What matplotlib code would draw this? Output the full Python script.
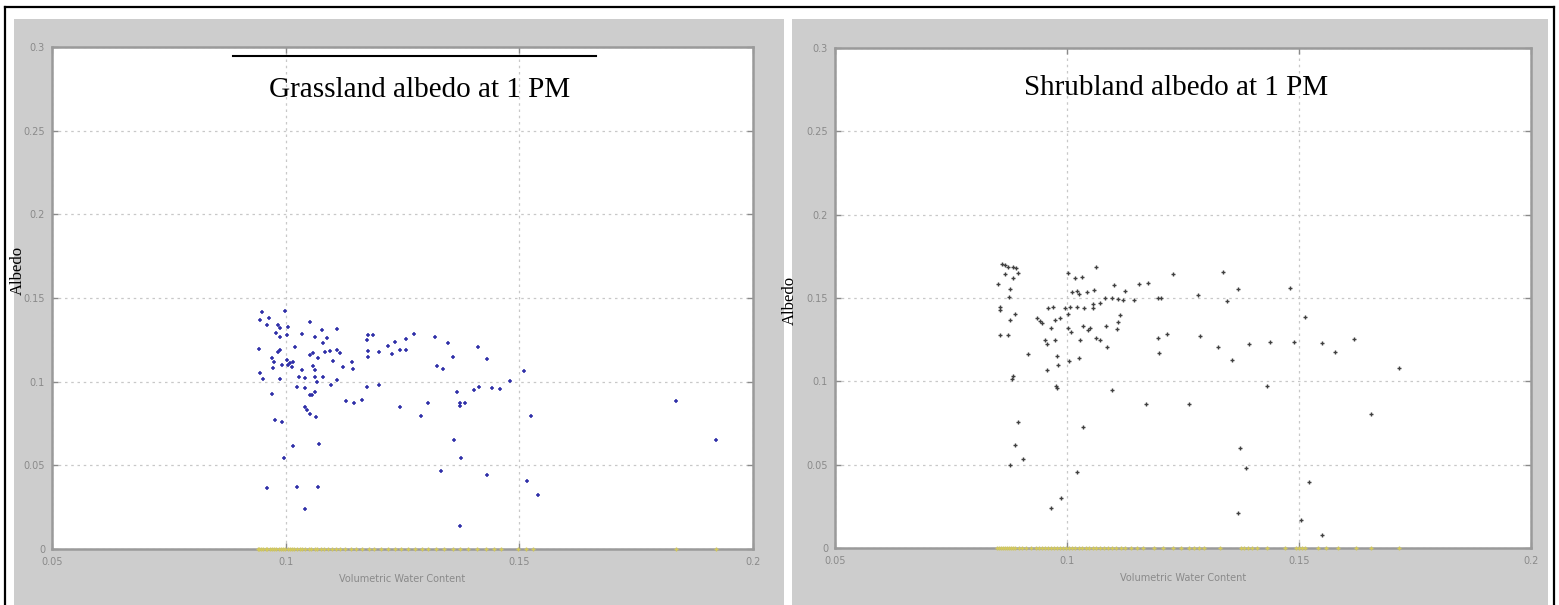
import matplotlib.pyplot as plt
from matplotlib.patches import Rectangle
from matplotlib.lines import Line2D

# ----------------------------
# Data (volumetric water content, albedo)
# ----------------------------

grass_vwc = [
    0.0950, 0.0945, 0.0965, 0.0960, 0.0984, 0.0988, 0.0999, 0.1005, 0.1003, 0.0988,
    0.0980, 0.1052, 0.1035, 0.1078, 0.1110, 0.1063, 0.1089, 0.1080, 0.0943, 0.0988,
    0.0984, 0.1020, 0.1052, 0.1059, 0.1070, 0.1085, 0.1095, 0.1110, 0.1117, 0.1102,
    0.0971, 0.0975, 0.1003, 0.1010, 0.1014, 0.1016, 0.1005, 0.0993, 0.0973, 0.1035,
    0.1059, 0.1063, 0.1123, 0.1142, 0.1145, 0.0945, 0.0952, 0.0988, 0.1029, 0.1042,
    0.1063, 0.1067, 0.1080, 0.1110, 0.1097, 0.1025, 0.1042, 0.1063, 0.1057, 0.1052,
    0.0971, 0.1042, 0.1046, 0.1052, 0.1065, 0.0978, 0.0993, 0.1130, 0.1147, 0.1164,
    0.1175, 0.1200, 0.1175, 0.1177, 0.1187, 0.1177, 0.1177, 0.1200, 0.1219, 0.1228,
    0.1234, 0.1245, 0.1258, 0.1258, 0.1275, 0.1320, 0.1348, 0.1324, 0.1337, 0.1245,
    0.1305, 0.1290, 0.1359, 0.1367, 0.1372, 0.1374, 0.1384, 0.1402, 0.1414, 0.1442,
    0.1459, 0.1412, 0.1431, 0.1479, 0.1509, 0.1526, 0.1361, 0.1376, 0.1333, 0.1431,
    0.1517, 0.1539, 0.1372, 0.1836, 0.1920, 0.1016, 0.1072, 0.0997, 0.0960, 0.1025,
    0.1070, 0.1042,
]
grass_albedo = [
    0.1417, 0.1369, 0.1381, 0.1339, 0.1339, 0.1321, 0.1423, 0.1327, 0.1279, 0.1267,
    0.1291, 0.1357, 0.1285, 0.1309, 0.1315, 0.1267, 0.1261, 0.1231, 0.1195, 0.1189,
    0.1178, 0.1207, 0.1160, 0.1172, 0.1142, 0.1178, 0.1184, 0.1189, 0.1172, 0.1124,
    0.1142, 0.1118, 0.1130, 0.1112, 0.1088, 0.1118, 0.1100, 0.1100, 0.1082, 0.1070,
    0.1094, 0.1070, 0.1088, 0.1118, 0.1076, 0.1052, 0.1016, 0.1016, 0.1028, 0.1022,
    0.1028, 0.0998, 0.1028, 0.1010, 0.0980, 0.0968, 0.0962, 0.0938, 0.0921, 0.0921,
    0.0926, 0.0849, 0.0831, 0.0807, 0.0789, 0.0771, 0.0759, 0.0885, 0.0873, 0.0891,
    0.0968, 0.0980, 0.1249, 0.1279, 0.1279, 0.1184, 0.1148, 0.1178, 0.1213, 0.1166,
    0.1237, 0.1189, 0.1189, 0.1255, 0.1285, 0.1267, 0.1231, 0.1094, 0.1076, 0.0849,
    0.0873, 0.0795, 0.1148, 0.0938, 0.0873, 0.0855, 0.0873, 0.0950, 0.0968, 0.0962,
    0.0956, 0.1208, 0.1136, 0.1004, 0.1064, 0.0795, 0.0652, 0.0544, 0.0466, 0.0442,
    0.0406, 0.0323, 0.0137, 0.0885, 0.0652, 0.0616, 0.0628, 0.0544, 0.0365, 0.0371,
    0.0371, 0.0239,
]
grass_zero_vwc = [
    0.0940, 0.0944, 0.0948, 0.0952, 0.0957, 0.0961, 0.0966, 0.0970, 0.0975, 0.0980,
    0.0985, 0.0990, 0.0994, 0.0999, 0.1004, 0.1009, 0.1013, 0.1018, 0.1024, 0.1030,
    0.1036, 0.1042, 0.1049, 0.1055, 0.1062, 0.1068, 0.1075, 0.1083, 0.1091, 0.1099,
    0.1107, 0.1116, 0.1128, 0.1140, 0.1151, 0.1163, 0.1178, 0.1190, 0.1204, 0.1219,
    0.1233, 0.1247, 0.1262, 0.1276, 0.1291, 0.1305, 0.1322, 0.1338, 0.1357, 0.1373,
    0.1390, 0.1410, 0.1428, 0.1445, 0.1461, 0.1498, 0.1515, 0.1530, 0.1836, 0.1920,
]

shrub_vwc = [
    0.0859, 0.0866, 0.0873, 0.0884, 0.0890, 0.0866, 0.0884, 0.0894, 0.0851, 0.0877,
    0.0875, 0.0856, 0.0856, 0.0888, 0.0877, 0.0856, 0.0873, 0.0916, 0.0884, 0.0881,
    0.0894, 0.0888, 0.0905, 0.0877, 0.1002, 0.1017, 0.1032, 0.1063, 0.1011, 0.1022,
    0.1026, 0.1043, 0.1058, 0.1101, 0.1125, 0.1155, 0.1175, 0.1082, 0.1097, 0.1110,
    0.1121, 0.1144, 0.1196, 0.1071, 0.1056, 0.1056, 0.1037, 0.1022, 0.1006, 0.0996,
    0.0970, 0.0959, 0.1002, 0.0935, 0.0942, 0.0946, 0.0974, 0.0985, 0.0966, 0.1002,
    0.1009, 0.1034, 0.1045, 0.1050, 0.1084, 0.1114, 0.1110, 0.1108, 0.1063, 0.1071,
    0.1086, 0.0953, 0.0957, 0.0974, 0.1028, 0.0978, 0.0981, 0.1004, 0.1026, 0.0957,
    0.0976, 0.0978, 0.1097, 0.1170, 0.1034, 0.1196, 0.1198, 0.1228, 0.1336, 0.1203,
    0.1282, 0.1345, 0.1369, 0.1481, 0.1513, 0.1216, 0.1287, 0.1325, 0.1356, 0.1392,
    0.1438, 0.1489, 0.1550, 0.1578, 0.1619, 0.1716, 0.1431, 0.1263, 0.1655, 0.1373,
    0.1386, 0.1022, 0.0987, 0.0966, 0.1369, 0.1522, 0.1504, 0.1550,
]
shrub_albedo = [
    0.1706, 0.1699, 0.1687, 0.1687, 0.1681, 0.1645, 0.1621, 0.1651, 0.1585, 0.1555,
    0.1507, 0.1447, 0.1429, 0.1406, 0.1370, 0.1280, 0.1280, 0.1166, 0.1035, 0.1017,
    0.0754, 0.0616, 0.0532, 0.0496, 0.1651, 0.1621, 0.1627, 0.1687, 0.1537, 0.1543,
    0.1525, 0.1537, 0.1549, 0.1579, 0.1543, 0.1585, 0.1591, 0.1501, 0.1501, 0.1495,
    0.1489, 0.1489, 0.1501, 0.1471, 0.1465, 0.1441, 0.1441, 0.1447, 0.1447, 0.1441,
    0.1447, 0.1441, 0.1406, 0.1382, 0.1364, 0.1352, 0.1370, 0.1382, 0.1322, 0.1322,
    0.1298, 0.1334, 0.1310, 0.1322, 0.1334, 0.1400, 0.1358, 0.1316, 0.1262, 0.1250,
    0.1208, 0.1250, 0.1226, 0.1250, 0.1250, 0.1154, 0.1100, 0.1124, 0.1142, 0.1071,
    0.0975, 0.0963, 0.0951, 0.0867, 0.0724, 0.1262, 0.1172, 0.1645, 0.1657, 0.1501,
    0.1519, 0.1483, 0.1555, 0.1561, 0.1388, 0.1286, 0.1274, 0.1208, 0.1130, 0.1226,
    0.1238, 0.1238, 0.1232, 0.1178, 0.1256, 0.1083, 0.0975, 0.0867, 0.0807, 0.0598,
    0.0478, 0.0455, 0.0299, 0.0239, 0.0209, 0.0395, 0.0167, 0.0078,
]
shrub_zero_vwc = [
    0.0850, 0.0854, 0.0858, 0.0862, 0.0866, 0.0870, 0.0874, 0.0879, 0.0884, 0.0889,
    0.0896, 0.0903, 0.0912, 0.0922, 0.0933, 0.0940, 0.0946, 0.0953, 0.0959, 0.0966,
    0.0972, 0.0979, 0.0985, 0.0992, 0.0998, 0.1005, 0.1011, 0.1018, 0.1025, 0.1032,
    0.1040, 0.1047, 0.1055, 0.1063, 0.1071, 0.1080, 0.1088, 0.1097, 0.1106, 0.1116,
    0.1126, 0.1137, 0.1150, 0.1163, 0.1188, 0.1207, 0.1228, 0.1245, 0.1262, 0.1273,
    0.1284, 0.1296, 0.1330, 0.1375, 0.1382, 0.1390, 0.1398, 0.1410, 0.1431, 0.1470,
    0.1493, 0.1500, 0.1507, 0.1513, 0.1540, 0.1558, 0.1583, 0.1623, 0.1655, 0.1716,
]

x_ticks = [0.05, 0.1, 0.15, 0.2]
x_ticklabels = ["0.05", "0.1", "0.15", "0.2"]
y_ticks = [0, 0.05, 0.1, 0.15, 0.2, 0.25, 0.3]
y_ticklabels = ["0", "0.05", "0.1", "0.15", "0.2", "0.25", "0.3"]

W, H = 1559, 605
fig = plt.figure(figsize=(W / 100, H / 100), dpi=100)
fig.patch.set_facecolor("white")


def px_rect(x0, y0, x1, y1):
    # pixel box (top-left origin) -> figure fraction [l, b, w, h]
    return [x0 / W, 1 - y1 / H, (x1 - x0) / W, (y1 - y0) / H]


# gray panel backgrounds
for x0, x1 in [(14, 784), (792, 1548)]:
    l, b, w, h = px_rect(x0, 19, x1, 605)
    fig.patches.append(Rectangle((l, b), w, h, transform=fig.transFigure,
                                 facecolor="#cdcdcd", edgecolor="none", zorder=-10))

# outer black frame
frame = dict(color="black", lw=1.6, transform=fig.transFigure)
fig.lines.append(Line2D([5 / W, 1554 / W], [1 - 7 / H, 1 - 7 / H], **frame))
fig.lines.append(Line2D([5 / W, 5 / W], [1 - 7 / H, 0], **frame))
fig.lines.append(Line2D([1554 / W, 1554 / W], [1 - 7 / H, 0], **frame))


def style_axes(ax):
    ax.set_xlim(0.05, 0.2)
    ax.set_ylim(0, 0.3)
    ax.set_xticks(x_ticks)
    ax.set_xticklabels(x_ticklabels)
    ax.set_yticks(y_ticks)
    ax.set_yticklabels(y_ticklabels)
    ax.tick_params(direction="in", length=4, width=1, colors="#8a8a8a",
                   labelsize=7, labelcolor="#8a8a8a", top=True, right=True)
    ax.tick_params(axis="y", pad=5)
    ax.tick_params(axis="x", pad=6)
    for s in ax.spines.values():
        s.set_color("#9a9a9a")
        s.set_linewidth(1.8)
    ax.grid(True, color="#c8c8c8", linestyle=(0, (2, 3)), linewidth=0.9)
    ax.set_axisbelow(True)
    ax.set_xlabel("Volumetric Water Content", fontsize=7, color="#8a8a8a", labelpad=5)


# ----------------------------
# Grassland panel
# ----------------------------
ax1 = fig.add_axes(px_rect(52, 47, 753, 549))
style_axes(ax1)
ax1.plot(grass_zero_vwc, [0] * len(grass_zero_vwc), "+", color="#d2c85a",
         ms=3.5, mew=1.0, clip_on=False, zorder=3)
ax1.plot(grass_vwc, grass_albedo, "+", color="#2f2fa8", ms=3.5, mew=1.1, zorder=4)
ax1.text(0.525, 0.915, "Grassland albedo at 1 PM", transform=ax1.transAxes,
         ha="center", va="center", fontsize=21, family="Liberation Serif")
fig.lines.append(Line2D([233 / W, 596 / W], [1 - 56 / H, 1 - 56 / H],
                        color="black", lw=1.5, transform=fig.transFigure))
fig.text(18 / W, 1 - 270 / H, "Albedo", rotation=90, ha="center", va="center",
         fontsize=12, family="Liberation Serif")

# ----------------------------
# Shrubland panel
# ----------------------------
ax2 = fig.add_axes(px_rect(835, 48, 1531, 548))
style_axes(ax2)
ax2.plot(shrub_zero_vwc, [0] * len(shrub_zero_vwc), "+", color="#d2c85a",
         ms=3.5, mew=1.0, clip_on=False, zorder=3)
ax2.plot(shrub_vwc, shrub_albedo, "+", color="#404040", ms=3.5, mew=1.0, zorder=4)
ax2.text(0.49, 0.92, "Shrubland albedo at 1 PM", transform=ax2.transAxes,
         ha="center", va="center", fontsize=21, family="Liberation Serif")
fig.text(790 / W, 1 - 300 / H, "Albedo", rotation=90, ha="center", va="center",
         fontsize=12, family="Liberation Serif")

plt.savefig("out.png", dpi=100, facecolor="white")
